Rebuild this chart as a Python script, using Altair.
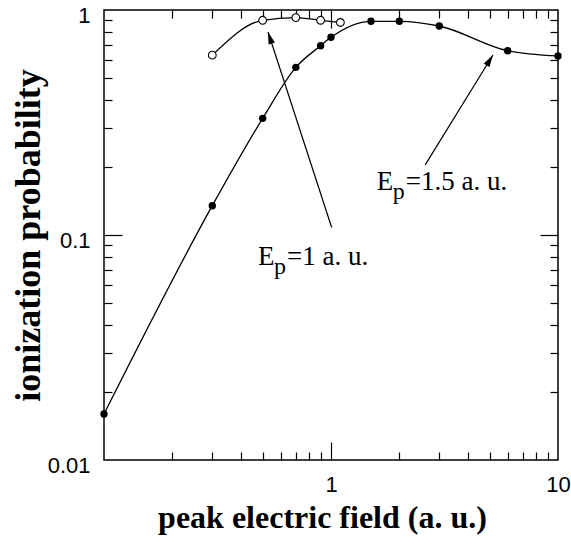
import altair as alt
import pandas as pd

# ---- data ----
open_x = [0.3, 0.5, 0.7, 0.9, 1.1]
open_y = [0.63, 0.90, 0.925, 0.90, 0.88]

filled_x = [0.1, 0.3, 0.5, 0.7, 0.9, 1.0, 1.5, 2.0, 3.0, 6.0, 10.0]
filled_y = [0.016, 0.135, 0.33, 0.556, 0.694, 0.756, 0.891, 0.891, 0.849, 0.659, 0.625]

x_labels = [1, 10]
y_labels = [0.01, 0.1, 1]
x_major = [1]
y_major = [0.1]
x_minor = [0.2, 0.3, 0.4, 0.5, 0.6, 0.7, 0.8, 0.9, 2, 3, 4, 5, 6, 7, 8, 9]
y_minor = [0.02, 0.03, 0.04, 0.05, 0.06, 0.07, 0.08, 0.09,
           0.2, 0.3, 0.4, 0.5, 0.6, 0.7, 0.8, 0.9]

arrow_x = [1.007, 2.6]
arrow_y = [0.108, 0.205]
arrow_x2 = [0.528, 5.17]
arrow_y2 = [0.798, 0.631]
arrow_angle = [342, 32]

label_x = [0.477, 1.59]
label_y = [0.0736, 0.158]
label_main = ["E", "E"]
label_sub = ["p", "p"]
label_rest = ["=1 a. u.", "=1.5 a. u."]

W, H = 454, 450

df_open = pd.DataFrame({"x": open_x, "y": open_y})
df_filled = pd.DataFrame({"x": filled_x, "y": filled_y})
df_arrow = pd.DataFrame({"x": arrow_x, "y": arrow_y, "x2": arrow_x2,
                         "y2": arrow_y2, "angle": arrow_angle})
df_label = pd.DataFrame({"x": label_x, "y": label_y, "main": label_main,
                         "sub": label_sub, "rest": label_rest})

xs = alt.Scale(type="log", domain=[0.1, 10], nice=False)
ys = alt.Scale(type="log", domain=[0.01, 1], nice=False)

SERIF = "Liberation Serif"
SANS = "Liberation Sans"


def tick_axis(orient, values, size, offset):
    return alt.Axis(orient=orient, values=values, tickSize=size, offset=offset,
                    labels=False, domain=False, grid=False, title=None,
                    tickColor="black", tickWidth=1.2)


# layer 1: filled line, labelled axes
line_filled = alt.Chart(df_filled).mark_line(
    color="black", strokeWidth=1.3, interpolate="monotone"
).encode(
    x=alt.X("x:Q", scale=xs, axis=alt.Axis(
        orient="bottom", values=x_labels, format="~g", ticks=False, domain=False,
        grid=False, labelFont=SANS, labelFontSize=22, labelColor="black",
        labelPadding=14, labelFlush=False, labelOverlap=False,
        title="peak electric field (a. u.)", titleFont=SERIF,
        titleFontSize=32, titleFontWeight="bold", titleColor="black",
        titleX=218, titleY=67, titleBaseline="alphabetic")),
    y=alt.Y("y:Q", scale=ys, axis=alt.Axis(
        orient="left", values=y_labels, format="~g", ticks=False, domain=False,
        grid=False, labelFont=SANS, labelFontSize=22, labelColor="black",
        labelPadding=14, labelOffset=5, labelFlush=False, labelOverlap=False,
        title="ionization probability",
        titleFont=SERIF, titleFontSize=36, titleFontWeight="bold",
        titleColor="black", titleX=-65, titleY=H / 2,
        titleBaseline="alphabetic")),
)

# layer 2: filled points; major inward ticks on bottom / left edges
pts_filled = alt.Chart(df_filled).mark_point(
    shape="circle", filled=True, color="black", size=55, opacity=1
).encode(
    x=alt.X("x:Q", scale=xs, axis=tick_axis("top", x_major, 18, -H)),
    y=alt.Y("y:Q", scale=ys, axis=tick_axis("right", y_major, 18, -W)),
)

# layer 3: open line; minor inward ticks bottom / left
line_open = alt.Chart(df_open).mark_line(
    color="black", strokeWidth=1.3, interpolate="monotone"
).encode(
    x=alt.X("x:Q", scale=xs, axis=tick_axis("top", x_minor, 8, -H)),
    y=alt.Y("y:Q", scale=ys, axis=tick_axis("right", y_minor, 8, -W)),
)

# layer 4: open points; major inward ticks top / right
pts_open = alt.Chart(df_open).mark_point(
    shape="circle", filled=True, fill="white", stroke="black",
    strokeWidth=1.1, size=60, opacity=1
).encode(
    x=alt.X("x:Q", scale=xs, axis=tick_axis("bottom", x_major, 18, -H)),
    y=alt.Y("y:Q", scale=ys, axis=tick_axis("left", y_major, 18, -W)),
)

# layer 5: arrows shafts; minor inward ticks top / right
arrows = alt.Chart(df_arrow).mark_rule(color="black", strokeWidth=1.2).encode(
    x=alt.X("x:Q", scale=xs, axis=tick_axis("bottom", x_minor, 8, -H)),
    y=alt.Y("y:Q", scale=ys, axis=tick_axis("left", y_minor, 8, -W)),
    x2="x2:Q", y2="y2:Q",
)

heads = alt.Chart(df_arrow).mark_point(
    shape="M0,0L-0.28,1L0.28,1Z", filled=True, color="black", size=576,
    opacity=1
).encode(
    x=alt.X("x2:Q", scale=xs, axis=None),
    y=alt.Y("y2:Q", scale=ys, axis=None),
    angle=alt.Angle("angle:Q", scale=None),
)

txt_main = alt.Chart(df_label).mark_text(
    font=SERIF, fontSize=27, align="left", baseline="alphabetic", color="black"
).encode(x=alt.X("x:Q", scale=xs, axis=None),
         y=alt.Y("y:Q", scale=ys, axis=None), text="main:N")

txt_sub = alt.Chart(df_label).mark_text(
    font=SERIF, fontSize=24, align="left", baseline="alphabetic", color="black",
    dx=16, dy=9
).encode(x=alt.X("x:Q", scale=xs, axis=None),
         y=alt.Y("y:Q", scale=ys, axis=None), text="sub:N")

txt_rest = alt.Chart(df_label).mark_text(
    font=SERIF, fontSize=27, align="left", baseline="alphabetic", color="black",
    dx=29
).encode(x=alt.X("x:Q", scale=xs, axis=None),
         y=alt.Y("y:Q", scale=ys, axis=None), text="rest:N")

chart = alt.layer(
    line_filled, pts_filled, line_open, pts_open, arrows, heads,
    txt_main, txt_sub, txt_rest
).resolve_axis(x="independent", y="independent").properties(
    width=W, height=H,
    autosize=alt.AutoSizeParams(type="none"),
    padding={"left": 104, "top": 10, "right": 13, "bottom": 91},
    background="white",
).configure_view(stroke="black", strokeWidth=1.5)

chart.save("out.html", embed_options={"renderer": "svg", "actions": False})
